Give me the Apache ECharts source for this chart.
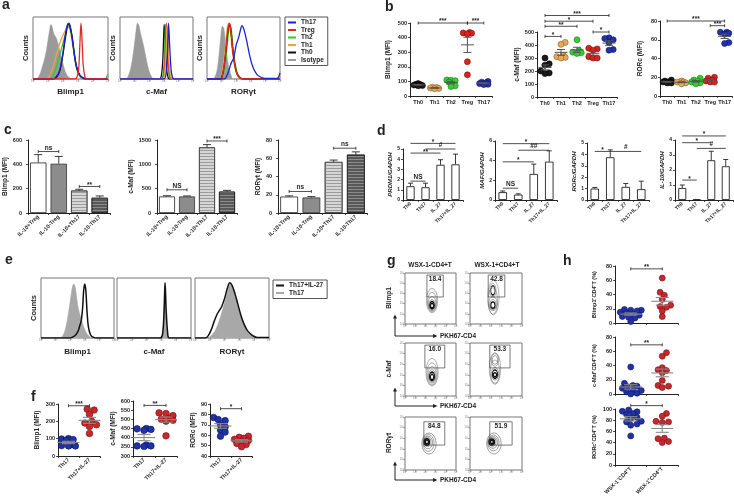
<!DOCTYPE html>
<html><head><meta charset="utf-8">
<script src="https://cdn.jsdelivr.net/npm/echarts/dist/echarts.min.js"></script>
<style>html,body{margin:0;padding:0;background:#fff}#c{width:734px;height:503px}</style>
</head><body><div id="c"></div>
<script>
// ================= DATA =================
// Panel a histograms: [position on log axis (0-100), % of max]
const aBlimp1Iso  = [[0,0],[4,0],[7,3],[10,10],[13,22],[16,35],[19,55],[22,78],[24,88],[26,82],[28,72],[31,66],[34,55],[37,40],[40,25],[43,12],[46,5],[50,1],[54,0],[100,0]];
const aBlimp1Th1  = [[0,0],[18,0],[22,5],[27,20],[31,38],[35,55],[39,68],[43,78],[46,85],[49,80],[52,62],[55,38],[58,16],[62,5],[66,0],[100,0]];
const aBlimp1Th2  = [[0,0],[22,0],[27,6],[32,22],[36,40],[40,58],[44,76],[47,86],[50,80],[53,58],[56,32],[60,12],[64,3],[68,0],[96,0],[98,3],[100,8]];
const aBlimp1Th0  = [[0,0],[28,0],[32,4],[36,14],[40,40],[44,72],[47,88],[49,86],[52,70],[55,42],[58,20],[62,7],[66,2],[70,0],[100,0]];
const aBlimp1Th17 = [[0,0],[26,0],[31,4],[35,12],[39,35],[43,70],[46,88],[48,90],[51,76],[54,50],[57,25],[61,9],[65,3],[70,1],[80,0],[100,0]];
const aBlimp1Treg = [[0,0],[56,0],[59,4],[61,18],[62.5,55],[64,90],[65.5,60],[67,22],[69,5],[71,0],[100,0]];

const aCMafIso  = [[0,0],[8,0],[11,4],[14,14],[17,32],[20,58],[22,78],[24,90],[26,86],[28,74],[31,60],[34,44],[37,26],[40,12],[43,4],[46,0],[100,0]];
const aCMafTh0  = [[0,0],[54,0],[57,8],[59,40],[60.5,88],[62,55],[64,15],[66,2],[68,0],[100,0]];
const aCMafTh2  = [[0,0],[56,0],[59,8],[61,40],[62.5,88],[64,55],[66,15],[68,2],[70,0],[100,0]];
const aCMafTreg = [[0,0],[57,0],[60,8],[62,40],[63.5,90],[65,55],[67,15],[69,2],[71,0],[100,0]];
const aCMafTh1  = [[0,0],[58,0],[61,8],[63,40],[64.5,88],[66,55],[68,15],[70,2],[72,0],[100,0]];
const aCMafTh17 = [[0,0],[60,0],[63,8],[65,40],[66.5,90],[68,55],[70,15],[72,2],[74,0],[100,0]];

const aRorIso  = [[0,0],[8,0],[11,4],[14,15],[17,45],[19,70],[21,85],[23,82],[25,62],[27,40],[30,18],[33,6],[36,0],[100,0]];
const aRorTh1  = [[0,0],[17,0],[20,6],[23,28],[26,62],[28,84],[30,90],[32,78],[34,52],[37,26],[40,10],[44,2],[48,0],[100,0]];
const aRorTh2  = [[0,0],[19,0],[22,6],[25,26],[28,58],[30,80],[32,86],[34,72],[36,48],[39,22],[42,8],[46,2],[50,0],[100,0]];
const aRorTh0  = [[0,0],[18,0],[21,6],[24,25],[27,58],[29,80],[31,88],[33,75],[35,50],[38,24],[41,9],[45,2],[49,0],[100,0]];
const aRorTreg = [[0,0],[18,0],[21,6],[24,26],[27,60],[29,82],[31,90],[33,76],[35,50],[38,24],[41,9],[45,2],[49,0],[100,0]];
const aRorTh17 = [[0,0],[24,0],[27,5],[30,14],[32,22],[34,28],[36,32],[38,42],[40,55],[42,62],[44,70],[46,80],[48,86],[50,82],[52,74],[55,58],[58,40],[61,26],[64,16],[68,8],[72,4],[76,2],[82,1],[96,1],[98,3],[100,10]];

// Panel b: MFI per group
const bGroups = ['Th0','Th1','Th2','Treg','Th17'];
const bBlimp1 = [[85,80,78,75,72,70],[60,58,55,52,50],[110,108,105,95,70,65],[435,432,430,425,235,145],[100,95,90,85,80,78]];
const bCMaf   = [[300,255,245,200,185,180],[420,405,320,310,305,300],[440,355,345,340,335],[375,370,360,310,300,300],[455,450,440,420,365,360]];
const bRORc   = [[17,16,15,15,14,14],[16,15,15,14,13],[19,17,16,15,14,13],[20,19,17,16,15,15],[68,68,67,66,57,56]];
const bBlimp1Sig = [[0,3,500,'***'],[3,4,500,'***']];
const bCMafSig   = [[0,1,466,'*'],[0,2,544,'**'],[0,3,583,'*'],[0,4,627,'***'],[3,4,500,'*']];
const bRORcSig   = [[0,4,80,'***'],[3,4,75,'***']];

// Panel c: bars
const cGroups = ['IL-10+Treg','IL-10-Treg','IL-10+Th17','IL-10-Th17'];
const cBlimp1 = [415,405,185,125];  const cBlimp1Err = [65,60,10,15];
const cCMaf   = [340,340,1350,440]; const cCMafErr   = [15,10,55,25];
const cRORgt  = [18,17,56,64];      const cRORgtErr  = [0.8,1,2,3];
const cBlimp1Sig = [[0,1,505,'ns'],[2,3,218,'**']];
const cCMafSig   = [[0,1,477,'NS'],[2,3,1480,'***']];
const cRORgtSig  = [[0,1,23.6,'ns'],[2,3,71,'ns']];

// Panel d: relative expression
const dGroups = ['Th0','Th17','IL_27','Th17+IL_27'];
const dPRDM1 = [1.35,1.25,3.45,3.5]; const dPRDM1Err = [0.3,0.4,0.5,1.0];
const dMAF   = [0.8,0.55,2.65,3.9];  const dMAFErr   = [0.12,0.08,1.0,1.1];
const dRORc  = [1.0,3.75,1.15,0.95]; const dRORcErr  = [0.1,0.65,0.3,0.7];
const dIL10  = [0.8,0.02,2.65,2.25]; const dIL10Err  = [0.2,0,0.6,0.45];
const dPRDM1Sig = [[0,1,1.85,'NS'],[0,2,4.6,'**'],[0,3,5.55,'*'],[1,3,5.0,'#']];
const dMAFSig   = [[0,1,1.2,'NS'],[0,2,3.88,'*'],[0,3,5.73,'*'],[1,3,5.06,'##']];
const dRORcSig  = [[0,1,4.26,'*'],[1,3,4.26,'#']];
const dIL10Sig  = [[0,1,1.33,'*'],[0,2,3.82,'*'],[0,3,4.27,'*'],[1,3,3.44,'#']];

// Panel e histograms
const eBlimp1Th17 = [[0,0],[26,0],[30,4],[34,18],[38,45],[41,70],[43,85],[45,90],[47,84],[49,66],[51,50],[54,36],[57,24],[60,14],[63,7],[67,2],[71,0],[100,0]];
const eBlimp1IL27 = [[0,0],[40,0],[44,2],[48,6],[51,12],[53,20],[55,28],[57,50],[58.5,80],[60,90],[61.5,78],[63,45],[65,18],[68,5],[72,1],[76,0],[100,0]];
const eCMafTh17   = [[0,0],[58,0],[61,6],[63,40],[64.5,92],[66,45],[68,8],[70,0],[100,0]];
const eCMafIL27   = [[0,0],[58.5,0],[61.5,6],[63.5,40],[65,92],[66.5,45],[68.5,8],[70.5,0],[100,0]];
const eRorTh17    = [[0,0],[16,0],[22,4],[28,14],[33,30],[37,46],[41,64],[45,82],[48,90],[51,86],[55,70],[59,50],[63,32],[67,20],[71,10],[75,5],[80,2],[86,0],[100,0]];
const eRorIL27    = [[0,0],[14,0],[18,4],[22,14],[26,28],[30,40],[33,46],[36,52],[40,66],[44,84],[47,92],[50,88],[54,74],[58,56],[62,38],[66,24],[70,14],[74,8],[78,4],[84,1],[100,1]];

// Panel f
const fGroups = ['Th17','Th17+IL-27'];
const fBlimp1 = [[100,98,95,90,65,60,58,58],[270,265,240,200,190,180,170,130]];
const fCMaf   = [[450,448,445,440,360,355,355,352],[535,532,520,505,500,495,490,410]];
const fRORc   = [[77,75,74,70,68,65,63,59],[59,58,57,56,55,54,52,51,49]];
const fBlimp1Sig = [[0,1,290,'***']];
const fCMafSig   = [[0,1,576,'**']];
const fRORcSig   = [[0,1,85.5,'*']];

// Panel g: contour levels [cx, cy, rx, ry] and gates [x0,y0,x1,y1] on 0-100 log axes
const gColumns = ['WSX-1-CD4+T','WSX-1+CD4+T'];
const gRows = ['Blimp1','c-Maf','RORγt'];
const gBlimpNeg = [[53,46,11,24],[53,43,9,19],[53,40,7.5,14],[53,38,6,10],[53,37,4.5,7],[53,36,3,4.5]];
const gBlimpPos = [[45,52,11,34],[44,45,9,26],[44,40,8,14],[44,38,6,10],[44,66,6,14],[44,66,4,9],[44,37,4,6]];
const gMafNeg   = [[53,45,12,26],[53,42,10,21],[53,40,8,16],[53,38,6.5,12],[53,37,5,8],[53,36,3,5]];
const gMafPos   = [[48,52,11,30],[48,46,9,22],[48,42,7,12],[48,68,7,12],[48,68,5,8],[48,41,5,8],[48,40,3,4]];
const gRorNeg   = [[47,50,14,20],[46,51,11,16],[45,52,9,12],[44,53,7,9],[43,53,5,6],[43,53,3,3.5]];
const gRorPos   = [[46,50,14,20],[45,51,11,15],[44,52,9,11],[43,53,7,8],[42,53,5,5.5],[42,53,3,3]];
const gGates = [[43,53,75,96],[35,53,67,96],[39,53,78,96],[38,53,77,96],[37,47,78,91],[38,47,81,91]];
const gGateValues = ['18.4','42.8','16.0','53.3','84.8','51.9'];

// Panel h
const hGroups = ['WSX-1\u207BCD4\u207AT','WSX-1\u207ACD4\u207AT'];
const hBlimp1 = [[19,18,18,17,15,14,12,11,9,8,7,2],[63,43,39,33,25,23,22,17,9]];
const hCMaf   = [[38,15,12,11,10,8,6,5,3,1,0],[58,53,37,34,33,30,19,12,11,9]];
const hRORc   = [[98,96,95,92,90,85,83,78,77,73,71,52],[92,87,78,77,76,48,47,42,40]];
const hBlimp1Sig = [[0,1,76,'**']];
const hCMafSig   = [[0,1,69,'**']];
const hRORcSig   = [[0,1,106,'*']];

// ================= BUILD =================
const FONT = "'Liberation Sans', Arial, sans-serif";
const INK = '#222';
const grids=[], xAxes=[], yAxes=[], series=[], graphics=[];
function addGrid(g,xa,ya){grids.push(g);const gi=grids.length-1;xa.gridIndex=gi;ya.gridIndex=gi;xAxes.push(xa);yAxes.push(ya);return gi;}
const sup=['\u2070','\u00B9','\u00B2','\u00B3','\u2074','\u2075'];

function boxAxes(box,xName,xGap,yName,yGap,nameSize,ticksLeft){
  return addGrid({left:box[0],top:box[1],width:box[2],height:box[3],show:true,borderColor:'#777',borderWidth:1,backgroundColor:'transparent'},
    {type:'value',min:0,max:100,interval:20,axisLine:{show:false},axisTick:{show:true,length:2,lineStyle:{color:'#777',width:0.6}},
     axisLabel:{show:true,fontSize:3,color:'#888',margin:1,formatter:v=>'10'+sup[Math.round(v/20)]},splitLine:{show:false},
     name:xName,nameLocation:'middle',nameGap:xGap,nameTextStyle:{fontSize:nameSize,fontWeight:'bold',color:INK,fontFamily:FONT}},
    {type:'value',min:0,max:100,interval:20,axisLine:{show:false},axisTick:{show:!!ticksLeft,length:2,lineStyle:{color:'#777',width:0.6}},
     axisLabel:{show:!!ticksLeft,fontSize:3,color:'#888',margin:1,formatter:v=>'10'+sup[Math.round(v/20)]},splitLine:{show:false},
     name:yName,nameLocation:'middle',nameGap:yGap,nameTextStyle:{fontSize:7.5,fontWeight:'bold',color:INK,fontFamily:FONT}});
}
function histGrid(box,xName,xGap,counts,curves){
  const gi=boxAxes(box,xName,xGap,counts?'Counts':'',3.5,8);
  curves.forEach(c=>series.push({type:'line',name:c.name,xAxisIndex:gi,yAxisIndex:gi,data:c.data,smooth:0.35,showSymbol:false,silent:true,
    lineStyle:{color:c.color,width:c.fill?0.5:c.w||1.3},itemStyle:{color:c.color},areaStyle:c.fill?{color:c.fill,opacity:1}:null,z:c.fill?1:2}));
}
const C={Th17:'#1b22d6',Treg:'#e22a24',Th2:'#2fc92f',Th1:'#f2a23a',Th0:'#111',Iso:'#9a9a9a'};
histGrid([33,17,75,62],'Blimp1',9,true,[
  {name:'Isotype',data:aBlimp1Iso,color:C.Iso,fill:C.Iso},{name:'Th1',data:aBlimp1Th1,color:C.Th1},{name:'Th2',data:aBlimp1Th2,color:C.Th2},
  {name:'Th0',data:aBlimp1Th0,color:C.Th0},{name:'Th17',data:aBlimp1Th17,color:C.Th17},{name:'Treg',data:aBlimp1Treg,color:C.Treg}]);
histGrid([120,17,73,62],'c-Maf',9,true,[
  {name:'Isotype',data:aCMafIso,color:C.Iso,fill:C.Iso},{name:'Th0',data:aCMafTh0,color:C.Th0},{name:'Th2',data:aCMafTh2,color:C.Th2},
  {name:'Treg',data:aCMafTreg,color:C.Treg},{name:'Th1',data:aCMafTh1,color:C.Th1},{name:'Th17',data:aCMafTh17,color:C.Th17}]);
histGrid([207,17,73,62],'RORγt',9,true,[
  {name:'Isotype',data:aRorIso,color:C.Iso,fill:C.Iso},{name:'Th1',data:aRorTh1,color:C.Th1},{name:'Th2',data:aRorTh2,color:C.Th2},
  {name:'Th0',data:aRorTh0,color:C.Th0},{name:'Treg',data:aRorTreg,color:C.Treg},{name:'Th17',data:aRorTh17,color:C.Th17}]);
const EG='#a8a8a8';
histGrid([41,278,73,60],'Blimp1',10,true,[{name:'Th17 (e)',data:eBlimp1Th17,color:EG,fill:EG},{name:'Th17+IL-27',data:eBlimp1IL27,color:'#111',w:1.5}]);
histGrid([117,278,74,60],'c-Maf',10,false,[{name:'Th17 (e)',data:eCMafTh17,color:EG,fill:EG},{name:'Th17+IL-27',data:eCMafIL27,color:'#111',w:1.5}]);
histGrid([195,278,74,60],'RORγt',10,false,[{name:'Th17 (e)',data:eRorTh17,color:EG,fill:EG},{name:'Th17+IL-27',data:eRorIL27,color:'#111',w:1.5}]);

// beeswarm layout: pixel offsets so that dots of one group stay inside a narrow column
function swarm(px,r,maxOff){
  const n=px.length,order=[...Array(n).keys()].sort((a,b)=>px[a]-px[b]);
  const placed=[],off=new Array(n).fill(0),step=r*0.7,minD=r*1.5;
  order.forEach(i=>{const y=px[i];let best=0,bestD=-1;
    for(let k=0;k<60;k++){const c=k===0?0:(k%2?1:-1)*Math.ceil(k/2)*step;if(Math.abs(c)>maxOff)break;
      const d=placed.length?Math.min(...placed.map(p=>Math.hypot(p[0]-c,p[1]-y))):1e9;
      if(d>=minD){best=c;bestD=d;break;}if(d>bestD){bestD=d;best=c;}}
    off[i]=best;placed.push([best,y]);});
  return off;
}
function brackets(gi,sig,caps,fs){
  series.push({type:'custom',xAxisIndex:gi,yAxisIndex:gi,clip:false,silent:true,z:6,data:sig.map(s=>[s[0],s[1],s[2]]),
    renderItem:(p,api)=>{const a=api.coord([api.value(0),api.value(2)]),b=api.coord([api.value(1),api.value(2)]);
      const lab=sig[p.dataIndex][3];const star=lab.indexOf('*')>=0;
      const st={stroke:INK,lineWidth:0.8};
      const ch=[{type:'line',shape:{x1:a[0],y1:a[1],x2:b[0],y2:b[1]},style:st},
        {type:'text',style:{text:lab,x:(a[0]+b[0])/2,y:a[1]+(star?2.2:-0.3),align:'center',verticalAlign:'bottom',font:'bold '+fs+'px '+FONT,fill:INK}}];
      if(caps){ch.push({type:'line',shape:{x1:a[0],y1:a[1]-1.5,x2:a[0],y2:a[1]+1.5},style:st},{type:'line',shape:{x1:b[0],y1:b[1]-1.5,x2:b[0],y2:b[1]+1.5},style:st});}
      return {type:'group',children:ch};}});
}
function catAxis(cats,o){
  return {type:'category',data:cats,axisLine:{show:true,lineStyle:{color:INK,width:1}},axisTick:{show:true,length:2,lineStyle:{color:INK,width:0.8}},
    axisLabel:{show:o.showX!==false,interval:0,fontSize:o.xFont||5.5,fontWeight:'bold',color:INK,rotate:o.rotate||0,margin:o.xMargin||3,fontFamily:FONT}};
}
function valAxis(o){
  return {type:'value',min:o.min,max:o.max,interval:o.interval,axisLine:{show:true,lineStyle:{color:INK,width:1}},
    axisTick:{show:true,length:2,lineStyle:{color:INK,width:0.8}},axisLabel:{fontSize:o.yFont||5.5,fontWeight:'bold',color:INK,margin:o.yMargin||3,fontFamily:FONT,formatter:v=>String(v)},
    splitLine:{show:false},name:o.yName,nameLocation:'middle',nameGap:o.nameGap,
    nameTextStyle:{fontSize:o.nameSize||6.5,fontWeight:'bold',fontStyle:o.italic?'italic':'normal',color:INK,fontFamily:FONT}};
}
function dotPanel(o){
  const [l,t,w,h]=o.box;
  const gi=addGrid({left:l,top:t,width:w,height:h},catAxis(o.cats,o),valAxis(o));
  const pxPer=h/(o.max-o.min);const dots=[];const maxOff=w/o.cats.length*o.spread;
  o.groups.forEach((vals,g)=>{const off=swarm(vals.map(v=>(v-o.min)*pxPer),o.r,maxOff);vals.forEach((v,i)=>dots.push([g,v,g,off[i]]));});
  series.push({type:'custom',xAxisIndex:gi,yAxisIndex:gi,silent:true,z:3,data:dots,clip:false,
    renderItem:(p,api)=>{const c=api.coord([api.value(0),api.value(1)]);const g=api.value(2);
      return {type:'circle',shape:{cx:c[0]+api.value(3),cy:c[1],r:o.r},style:{fill:o.fills[g],stroke:o.strokes[g],lineWidth:0.6}};}});
  const ms=o.groups.map((vals,g)=>{const n=vals.length,m=vals.reduce((a,b)=>a+b,0)/n;
    const sd=Math.sqrt(vals.reduce((a,b)=>a+(b-m)*(b-m),0)/(n-1));return [g,m,sd/Math.sqrt(n)];});
  series.push({type:'custom',xAxisIndex:gi,yAxisIndex:gi,silent:true,z:4,data:ms,
    renderItem:(p,api)=>{const m=api.coord([api.value(0),api.value(1)]),hi=api.coord([api.value(0),api.value(1)+api.value(2)]),lo=api.coord([api.value(0),api.value(1)-api.value(2)]);
      const x=m[0],st={stroke:o.meanColor,lineWidth:o.meanLW||1};
      return {type:'group',children:[
        {type:'line',shape:{x1:x-o.meanW/2,y1:m[1],x2:x+o.meanW/2,y2:m[1]},style:st},
        {type:'line',shape:{x1:x,y1:hi[1],x2:x,y2:lo[1]},style:st},
        {type:'line',shape:{x1:x-o.capW/2,y1:hi[1],x2:x+o.capW/2,y2:hi[1]},style:st},
        {type:'line',shape:{x1:x-o.capW/2,y1:lo[1],x2:x+o.capW/2,y2:lo[1]},style:st}]};}});
  brackets(gi,o.sig,true,o.sigFont||6.5);
}
function barPanel(o){
  const [l,t,w,h]=o.box;
  const gi=addGrid({left:l,top:t,width:w,height:h},catAxis(o.cats,o),valAxis(o));
  series.push({type:'bar',xAxisIndex:gi,yAxisIndex:gi,silent:true,z:2,barWidth:o.barWidth,
    data:o.vals.map((v,i)=>({value:v,itemStyle:o.styles[i%o.styles.length]}))});
  series.push({type:'custom',xAxisIndex:gi,yAxisIndex:gi,silent:true,z:3,data:o.vals.map((v,i)=>[i,v,o.errs[i]]),
    renderItem:(p,api)=>{const a=api.coord([api.value(0),api.value(1)]),b=api.coord([api.value(0),api.value(1)+api.value(2)]);const st={stroke:INK,lineWidth:0.9};
      return {type:'group',children:[{type:'line',shape:{x1:a[0],y1:a[1],x2:b[0],y2:b[1]},style:st},
        {type:'line',shape:{x1:b[0]-o.capW/2,y1:b[1],x2:b[0]+o.capW/2,y2:b[1]},style:st}]};}});
  brackets(gi,o.sig,o.caps,o.sigFont||6.5);
}

// Panel b
const bFill=['#1a1a1a','#e8a95c','#35cf35','#d8231f','#2432a8'];
const bStroke=['#000','#8a5a1c','#137a13','#7a0e0c','#0b1260'];
const bCommon={cats:bGroups,fills:bFill,strokes:bStroke,r:3,spread:0.34,meanW:13,capW:8,meanColor:'#555',meanLW:1};
dotPanel(Object.assign({},bCommon,{box:[410,23,82,73],groups:bBlimp1,min:0,max:500,interval:100,yName:'Blimp1 (MFI)',nameGap:18,sig:bBlimp1Sig}));
dotPanel(Object.assign({},bCommon,{box:[537,32,80,65],groups:bCMaf,min:0,max:500,interval:100,yName:'c-Maf (MFI)',nameGap:16,sig:bCMafSig}));
dotPanel(Object.assign({},bCommon,{box:[660,21,72,75],groups:bRORc,min:0,max:80,interval:20,yName:'RORc (MFI)',nameGap:16,sig:bRORcSig}));

// Panel c
const deco=(c)=>({symbol:'rect',symbolSize:1,dashArrayX:[1,0],dashArrayY:[1,1.3],rotation:0,color:c});
const cStyles=[{color:'#fff',borderColor:INK,borderWidth:0.8},{color:'#8c8c8c',borderColor:'#333',borderWidth:0.8},
  {color:'#d6d6d6',borderColor:'#444',borderWidth:0.8,decal:deco('#9c9c9c')},{color:'#585858',borderColor:'#222',borderWidth:0.8,decal:deco('#8a8a8a')}];
const cCommon={cats:cGroups,styles:cStyles,barWidth:'80%',capW:8,caps:true,rotate:45,xFont:5.5,yMargin:6};
barPanel(Object.assign({},cCommon,{box:[28,140,82,73],vals:cBlimp1,errs:cBlimp1Err,min:0,max:600,interval:200,yName:'Blimp1 (MFI)',nameGap:15,sig:cBlimp1Sig}));
barPanel(Object.assign({},cCommon,{box:[157,140,80,73],vals:cCMaf,errs:cCMafErr,min:0,max:1500,interval:500,yName:'c-Maf (MFI)',nameGap:17,sig:cCMafSig}));
barPanel(Object.assign({},cCommon,{box:[278,140,89,73],vals:cRORgt,errs:cRORgtErr,min:0,max:80,interval:20,yName:'RORγt (MFI)',nameGap:15,sig:cRORgtSig}));

// Panel d
const dStyles=[{color:'#fff',borderColor:INK,borderWidth:0.9}];
const dCommon={cats:dGroups,styles:dStyles,barWidth:'55%',capW:5,caps:false,rotate:45,xFont:5,italic:true,nameSize:6,yFont:5,sigFont:6.5};
barPanel(Object.assign({},dCommon,{box:[403,149,60,51],vals:dPRDM1,errs:dPRDM1Err,min:0,max:5,interval:1,yName:'PRDM1/GAPDH',nameGap:6,sig:dPRDM1Sig}));
barPanel(Object.assign({},dCommon,{box:[495,141,62,59],vals:dMAF,errs:dMAFErr,min:0,max:6,interval:2,yName:'MAF/GAPDH',nameGap:6,sig:dMAFSig}));
barPanel(Object.assign({},dCommon,{box:[587,143,62,57],vals:dRORc,errs:dRORcErr,min:0,max:5,interval:1,yName:'RORc/GAPDH',nameGap:6,sig:dRORcSig}));
barPanel(Object.assign({},dCommon,{box:[675,140,58,60],vals:dIL10,errs:dIL10Err,min:0,max:4,interval:1,yName:'IL-10/GAPDH',nameGap:6,sig:dIL10Sig}));

// Panel f
const fhFill=['#2232a6','#c8282c'], fhStroke=['#0c1560','#6e1012'];
const fCommon={cats:fGroups,fills:fhFill,strokes:fhStroke,r:3.3,spread:0.38,meanW:22,capW:13,meanColor:'#8a8a8a',meanLW:1.1,rotate:45,xFont:5.5};
dotPanel(Object.assign({},fCommon,{box:[58,404,42,52],groups:fBlimp1,min:0,max:300,interval:100,yName:'Blimp1 (MFI)',nameGap:17,sig:fBlimp1Sig}));
dotPanel(Object.assign({},fCommon,{box:[133,401,44,55],groups:fCMaf,min:300,max:600,interval:50,yName:'c-Maf (MFI)',nameGap:15,sig:fCMafSig}));
dotPanel(Object.assign({},fCommon,{box:[210,404,42,52],groups:fRORc,min:40,max:90,interval:10,yName:'RORc (MFI)',nameGap:10,sig:fRORcSig}));

// Panel h
const hCommon={cats:hGroups,fills:fhFill,strokes:fhStroke,r:3,spread:0.36,meanW:22,capW:13,meanColor:'#8a8a8a',meanLW:1.1,rotate:45,xFont:5.5,nameSize:5.5};
dotPanel(Object.assign({},hCommon,{box:[615,266,63,57],groups:hBlimp1,min:0,max:80,interval:20,yName:'Blimp1\u207ACD4\u207AT (%)',nameGap:18,sig:hBlimp1Sig,showX:false}));
dotPanel(Object.assign({},hCommon,{box:[615,337,63,57],groups:hCMaf,min:0,max:80,interval:20,yName:'c-Maf\u207ACD4\u207AT (%)',nameGap:18,sig:hCMafSig,showX:false}));
dotPanel(Object.assign({},hCommon,{box:[615,409,63,56],groups:hRORc,min:0,max:100,interval:20,yName:'RORc\u207ACD4\u207AT (%)',nameGap:18,sig:hRORcSig}));

// Panel g contour plots
const gBoxes=[[405,273,51,51],[470,273,52,51],[405,343,51,53],[470,343,52,53],[405,417,51,53],[470,417,52,53]];
const gRings=[gBlimpNeg,gBlimpPos,gMafNeg,gMafPos,gRorNeg,gRorPos];
gBoxes.forEach((box,k)=>{
  const gi=boxAxes(box,'',0,'',0,6,true);
  const rings=gRings[k];
  series.push({type:'custom',xAxisIndex:gi,yAxisIndex:gi,silent:true,z:3,data:rings,
    renderItem:(p,api)=>{const c=api.coord([api.value(0),api.value(1)]);const s=api.size([api.value(2),api.value(3)]);
      const inner=p.dataIndex>=rings.length-2;
      return {type:'circle',x:c[0],y:c[1],scaleX:s[0]/s[1],shape:{cx:0,cy:0,r:s[1]},
        style:{fill:'none',stroke:inner?'#111':'#444',lineWidth:inner?1.6:0.6,strokeNoScale:true}};}});
  series.push({type:'custom',xAxisIndex:gi,yAxisIndex:gi,silent:true,z:4,data:[gGates[k]],
    renderItem:(p,api)=>{const a=api.coord([api.value(0),api.value(3)]),b=api.coord([api.value(2),api.value(1)]);
      return {type:'group',children:[{type:'rect',shape:{x:a[0],y:a[1],width:b[0]-a[0],height:b[1]-a[1]},style:{fill:'none',stroke:'#444',lineWidth:0.7}},
        {type:'text',style:{text:gGateValues[k],x:(a[0]+b[0])/2,y:a[1]+4.5,align:'center',verticalAlign:'middle',font:'bold 6.5px '+FONT,fill:INK}}]};}});
});

// ================= ANNOTATIONS =================
function txt(x,y,t,size,opt){graphics.push(Object.assign({type:'text',x:x,y:y,silent:true,style:{text:t,font:'bold '+size+'px '+FONT,fill:(opt&&opt.fill)||INK,align:(opt&&opt.align)||'left',verticalAlign:'middle'}},opt&&opt.rot?{rotation:opt.rot}:{}));}
[['a',2,5.2],['b',385,7.5],['c',4,130.2],['d',377,131],['e',5,260.2],['f',31,397.5],['g',387,261.2],['h',563,261]].forEach(l=>txt(l[1],l[2],l[0],14));
txt(430,265,gColumns[0],6.5,{align:'center'});
txt(497,265,gColumns[1],6.5,{align:'center'});
txt(389,298,gRows[0],6.5,{align:'center',rot:Math.PI/2});
txt(389,369,gRows[1],6.5,{align:'center',rot:Math.PI/2});
txt(389,443,gRows[2],6.5,{align:'center',rot:Math.PI/2});
[[315,336],[388,406],[462,480]].forEach(a=>{
  const x=395;
  graphics.push({type:'polyline',silent:true,shape:{points:[[x,a[0]+3],[x,a[1]],[434,a[1]]]},style:{stroke:INK,lineWidth:1,fill:'none'}});
  graphics.push({type:'polygon',silent:true,shape:{points:[[x-2,a[0]+3.5],[x,a[0]-0.5],[x+2,a[0]+3.5]]},style:{fill:INK}});
  graphics.push({type:'polygon',silent:true,shape:{points:[[433,a[1]-2],[437.5,a[1]],[433,a[1]+2]]},style:{fill:INK}});
  txt(440,a[1],'PKH67-CD4',6.5);
});

const legendBase={orient:'vertical',itemWidth:8,itemHeight:2,icon:'rect',selectedMode:false,borderColor:'#555',borderWidth:1,
  textStyle:{fontSize:6.5,fontWeight:'bold',fontFamily:FONT,color:INK}};

const option={
  animation:false,backgroundColor:'#fff',
  textStyle:{fontFamily:FONT},
  grid:grids,xAxis:xAxes,yAxis:yAxes,series:series,
  legend:[Object.assign({},legendBase,{data:['Th17','Treg','Th2','Th1','Th0','Isotype'],left:285,top:17,itemGap:0.5,padding:[2,4,2,3]}),
          Object.assign({},legendBase,{data:['Th17+IL-27','Th17 (e)'],formatter:n=>n.replace(' (e)',''),left:273,top:280,itemGap:0.5,padding:[2,4,2,3]})],
  graphic:graphics
};
const chart=echarts.init(document.getElementById('c'),null,{renderer:'canvas'});
chart.setOption(option);
</script></body></html>
